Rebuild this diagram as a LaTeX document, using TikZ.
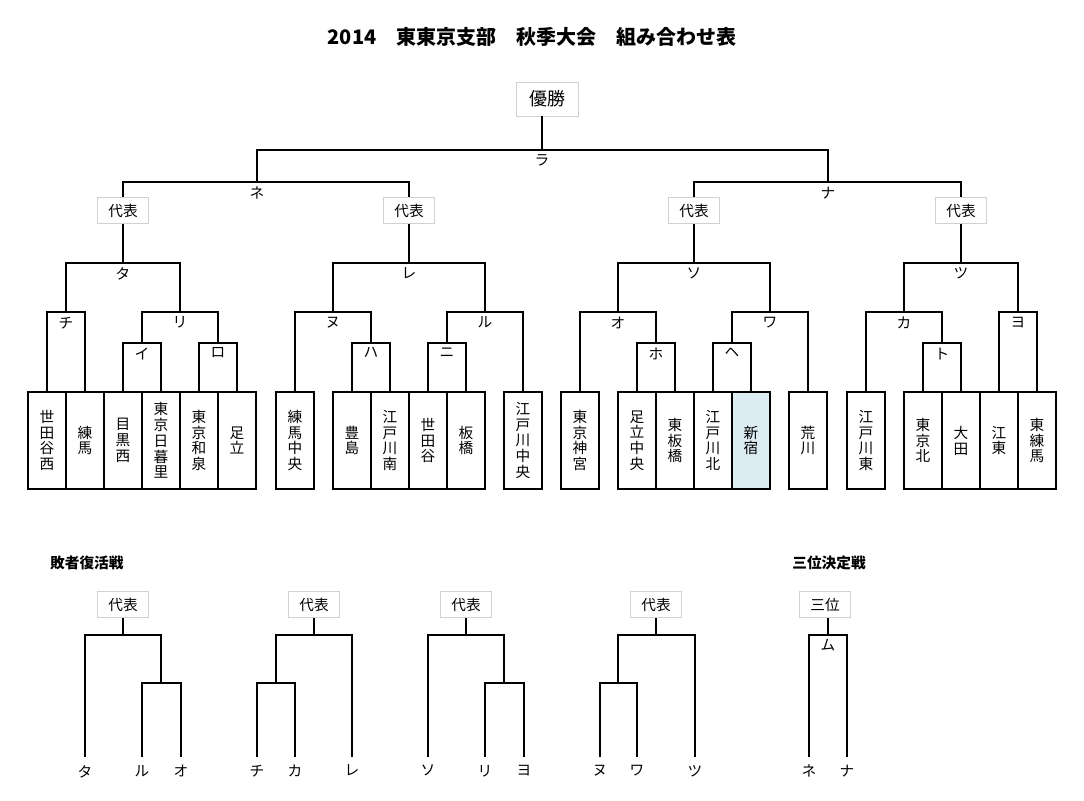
\documentclass[tikz,border=0pt]{standalone}
\usepackage{fontspec}
\setmainfont{Noto Sans CJK JP}
\definecolor{pick}{HTML}{DDECF2}
\begin{document}
\begin{tikzpicture}[
    x=0.75pt, y=-0.75pt,
    line width=1.1pt,
    team/.style={rectangle, draw, minimum width=28.5pt, minimum height=72.75pt, inner sep=0pt, align=center, font=\fontsize{11}{11.8}\selectfont},
    rep/.style={rectangle, draw=black!18, line width=0.6pt, fill=white, minimum width=38pt, minimum height=19pt, inner sep=0pt, font=\fontsize{11}{12}\selectfont},
    lbl/.style={inner sep=3pt, font=\fontsize{11}{12}\selectfont},
    foot/.style={anchor=north, inner sep=5.5pt, font=\fontsize{11}{12}\selectfont},
    head/.style={font=\bfseries\fontsize{11}{13}\selectfont}
]
\path[use as bounding box, fill=white] (0,0) rectangle (1084,800);

% Title
\node[font=\bfseries\fontsize{15}{17}\selectfont] (title) at (532,37) {2014　東東京支部　秋季大会　組み合わせ表};

% Teams
\node[team] (a1) at (47,440.5) {世\\田\\谷\\西};
\node[team] (a2) at (85,440.5) {練\\馬};
\node[team] (a3) at (123,440.5) {目\\黒\\西};
\node[team] (a4) at (161,440.5) {東\\京\\日\\暮\\里};
\node[team] (a5) at (199,440.5) {東\\京\\和\\泉};
\node[team] (a6) at (237,440.5) {足\\立};
\node[team] (b1) at (295,440.5) {練\\馬\\中\\央};
\node[team] (b2) at (352,440.5) {豊\\島};
\node[team] (b3) at (390,440.5) {江\\戸\\川\\南};
\node[team] (b4) at (428,440.5) {世\\田\\谷};
\node[team] (b5) at (466,440.5) {板\\橋};
\node[team] (b6) at (523,440.5) {江\\戸\\川\\中\\央};
\node[team] (c1) at (580,440.5) {東\\京\\神\\宮};
\node[team] (c2) at (637,440.5) {足\\立\\中\\央};
\node[team] (c3) at (675,440.5) {東\\板\\橋};
\node[team] (c4) at (713,440.5) {江\\戸\\川\\北};
\node[team, fill=pick] (c5) at (751,440.5) {新\\宿};
\node[team] (c6) at (808,440.5) {荒\\川};
\node[team] (d1) at (866,440.5) {江\\戸\\川\\東};
\node[team] (d2) at (923,440.5) {東\\京\\北};
\node[team] (d3) at (961,440.5) {大\\田};
\node[team] (d4) at (999,440.5) {江\\東};
\node[team] (d5) at (1037,440.5) {東\\練\\馬};

% First rounds
\coordinate (chi) at (66,312);
\coordinate (i) at (142,343);
\coordinate (ro) at (218,343);
\coordinate (ri) at (180,312);
\coordinate (ha) at (371,343);
\coordinate (ni) at (447,343);
\coordinate (nu) at (333,312);
\coordinate (ru) at (485,312);
\coordinate (ho) at (656,343);
\coordinate (he) at (732,343);
\coordinate (o) at (618,312);
\coordinate (wa) at (770,312);
\coordinate (to) at (942,343);
\coordinate (ka) at (904,312);
\coordinate (yo) at (1018,312);
\draw (a1.north) |- (chi) -| (a2.north);
\draw (a3.north) |- (i) -| (a4.north);
\draw (a5.north) |- (ro) -| (a6.north);
\draw (i) |- (ri) -| (ro);
\draw (b2.north) |- (ha) -| (b3.north);
\draw (b4.north) |- (ni) -| (b5.north);
\draw (b1.north) |- (nu) -| (ha);
\draw (ni) |- (ru) -| (b6.north);
\draw (c2.north) |- (ho) -| (c3.north);
\draw (c4.north) |- (he) -| (c5.north);
\draw (c1.north) |- (o) -| (ho);
\draw (he) |- (wa) -| (c6.north);
\draw (d2.north) |- (to) -| (d3.north);
\draw (d1.north) |- (ka) -| (to);
\draw (d4.north) |- (yo) -| (d5.north);
\node[lbl, below] (chi-l) at (chi) {チ};
\node[lbl, below] (i-l) at (i) {イ};
\node[lbl, below] (ro-l) at (ro) {ロ};
\node[lbl, below] (ri-l) at (ri) {リ};
\node[lbl, below] (ha-l) at (ha) {ハ};
\node[lbl, below] (ni-l) at (ni) {ニ};
\node[lbl, below] (nu-l) at (nu) {ヌ};
\node[lbl, below] (ru-l) at (ru) {ル};
\node[lbl, below] (ho-l) at (ho) {ホ};
\node[lbl, below] (he-l) at (he) {ヘ};
\node[lbl, below] (o-l) at (o) {オ};
\node[lbl, below] (wa-l) at (wa) {ワ};
\node[lbl, below] (to-l) at (to) {ト};
\node[lbl, below] (ka-l) at (ka) {カ};
\node[lbl, below] (yo-l) at (yo) {ヨ};

% Block finals
\coordinate (ta) at (123,263);
\coordinate (re) at (409,263);
\coordinate (so) at (694,263);
\coordinate (tsu) at (961,263);
\draw (chi) |- (ta) -| (ri);
\draw (nu) |- (re) -| (ru);
\draw (o) |- (so) -| (wa);
\draw (ka) |- (tsu) -| (yo);
\node[lbl, below] (ta-l) at (ta) {タ};
\node[lbl, below] (re-l) at (re) {レ};
\node[lbl, below] (so-l) at (so) {ソ};
\node[lbl, below] (tsu-l) at (tsu) {ツ};
\node[rep] (rep1) at (123,210.5) {代表};
\node[rep] (rep2) at (409,210.5) {代表};
\node[rep] (rep3) at (694,210.5) {代表};
\node[rep] (rep4) at (961,210.5) {代表};
\draw (ta) -- (rep1);
\draw (re) -- (rep2);
\draw (so) -- (rep3);
\draw (tsu) -- (rep4);

% Semi-finals and final
\coordinate (ne) at (257,182);
\coordinate (na) at (828,182);
\coordinate (ra) at (542,150);
\draw (rep1.north) |- (ne) -| (rep2.north);
\draw (rep3.north) |- (na) -| (rep4.north);
\draw (ne) |- (ra) -| (na);
\node[lbl, below] (ne-l) at (ne) {ネ};
\node[lbl, below] (na-l) at (na) {ナ};
\node[lbl, below] (ra-l) at (ra) {ラ};
\node[rep, minimum width=46pt, minimum height=25.5pt, font=\fontsize{13.5}{15}\selectfont] (win) at (547.5,99) {優勝};
\draw[line width=0.8pt] (ra) -- (ra |- win.south);

% Repechage
\node[head, anchor=west] (loser) at (45,563) {敗者復活戦};
\node[head] (thirdT) at (829,563) {三位決定戦};

\node[foot] (f1a) at (85,757) {タ};
\node[foot] (f1b) at (142,757) {ル};
\node[foot] (f1c) at (181,757) {オ};
\node[foot] (f2a) at (257,757) {チ};
\node[foot] (f2b) at (295,757) {カ};
\node[foot] (f2c) at (352,757) {レ};
\node[foot] (f3a) at (428,757) {ソ};
\node[foot] (f3b) at (485,757) {リ};
\node[foot] (f3c) at (524,757) {ヨ};
\node[foot] (f4a) at (600,757) {ヌ};
\node[foot] (f4b) at (637,757) {ワ};
\node[foot] (f4c) at (695,757) {ツ};
\node[foot] (f5a) at (809,757) {ネ};
\node[foot] (f5b) at (847,757) {ナ};

\coordinate (j1) at (123,635);
\coordinate (k1) at (161,683);
\coordinate (j2) at (314,635);
\coordinate (k2) at (276,683);
\coordinate (j3) at (466,635);
\coordinate (k3) at (504,683);
\coordinate (j4) at (656,635);
\coordinate (k4) at (618,683);
\coordinate (mu) at (828,635);
\draw (f1a.north) |- (j1) -| (k1);
\draw (f1b.north) |- (k1) -| (f1c.north);
\draw (k2) |- (j2) -| (f2c.north);
\draw (f2a.north) |- (k2) -| (f2b.north);
\draw (f3a.north) |- (j3) -| (k3);
\draw (f3b.north) |- (k3) -| (f3c.north);
\draw (k4) |- (j4) -| (f4c.north);
\draw (f4a.north) |- (k4) -| (f4b.north);
\draw (f5a.north) |- (mu) -| (f5b.north);
\node[lbl, below] (mu-l) at (mu) {ム};

\node[rep] (rep5) at (123,604.5) {代表};
\node[rep] (rep6) at (314,604.5) {代表};
\node[rep] (rep7) at (466,604.5) {代表};
\node[rep] (rep8) at (656,604.5) {代表};
\node[rep] (third) at (825,604.5) {三位};
\draw (j1) -- (rep5);
\draw (j2) -- (rep6);
\draw (j3) -- (rep7);
\draw (j4) -- (rep8);
\draw (mu) -- (mu |- third.south);

\end{tikzpicture}
\end{document}
